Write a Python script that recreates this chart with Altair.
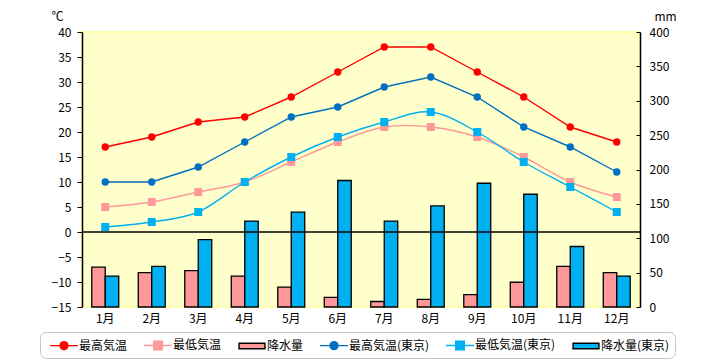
import altair as alt
import pandas as pd

MONTHS = ["1月", "2月", "3月", "4月", "5月", "6月", "7月", "8月", "9月", "10月", "11月", "12月"]
SERIES = ["最高気温", "最低気温", "降水量", "最高気温(東京)", "最低気温(東京)", "降水量(東京)"]
FILLS = ["#FF0000", "#FF9999", "#FF9999", "#0070C0", "#00B0F0", "#00B0F0"]
STROKES = ["#FF0000", "#FF9999", "#000000", "#0070C0", "#00B0F0", "#000000"]

HIGH = [17, 19, 22, 23, 27, 32, 37, 37, 32, 27, 21, 18]
LOW = [5, 6, 8, 10, 14, 18, 21, 21, 19, 15, 10, 7]
PRECIP = [58, 50, 53, 45, 29, 14, 8, 11, 18, 36, 59, 50]
TK_HIGH = [10, 10, 13, 18, 23, 25, 29, 31, 27, 21, 17, 12]
TK_LOW = [1, 2, 4, 10, 15, 19, 22, 24, 20, 14, 9, 4]
TK_PRECIP = [45, 59, 98, 125, 138, 184, 125, 147, 180, 164, 88, 45]

TEMP_TICKS = [-15, -10, -5, 0, 5, 10, 15, 20, 25, 30, 35, 40]
MM_TICKS = [0, 50, 100, 150, 200, 250, 300, 350, 400]

rows = []
for s, vals in zip(SERIES, [HIGH, LOW, PRECIP, TK_HIGH, TK_LOW, TK_PRECIP]):
    for m, v in zip(MONTHS, vals):
        rows.append({"month": m, "series": s, "value": v})
df = pd.DataFrame(rows)
zero_df = pd.DataFrame({"v": [0]})

FONT = "Noto Sans CJK JP"
BAR_SERIES = ["降水量", "降水量(東京)"]
HIGH_SERIES = ["最高気温", "最高気温(東京)"]
LOW_SERIES = ["最低気温", "最低気温(東京)"]

# legend symbol paths (line + marker, or bar swatch)
LINE_CIRCLE = "M-2,0H2M-0.57,0A0.57,0.57 0 1,0 0.57,0A0.57,0.57 0 1,0 -0.57,0Z"
LINE_SQUARE = "M-2,0H2M-0.62,-0.62H0.62V0.62H-0.62Z"
BAR_PATH = "M-1.85,-0.4H1.85V0.4H-1.85Z"
SHAPES = [LINE_CIRCLE, LINE_SQUARE, BAR_PATH, LINE_CIRCLE, LINE_SQUARE, BAR_PATH]

legend = alt.Legend(
    title=None, orient="none", legendX=-42, legendY=300,
    direction="horizontal", columns=6, columnPadding=11, padding=5,
    symbolSize=196, symbolOffset=11, labelOffset=7, symbolStrokeWidth=1.4,
    symbolOpacity=1,
    labelFont=FONT, labelFontSize=12, labelColor="black",
    fillColor="white", strokeColor="#C4C4C4", cornerRadius=6,
)

fill_enc = alt.Fill("series:N", scale=alt.Scale(domain=SERIES, range=FILLS), legend=legend)
stroke_enc = alt.Stroke("series:N", scale=alt.Scale(domain=SERIES, range=STROKES), legend=legend)
shape_enc = alt.Shape("series:N", scale=alt.Scale(domain=SERIES, range=SHAPES), legend=legend)

x_scale = alt.Scale(type="band", domain=MONTHS, paddingInner=0.42, paddingOuter=0.21)
x_axis = alt.Axis(title=None, domain=False, ticks=False, labelAngle=0, labelPadding=6,
                  labelFont=FONT, labelFontSize=12, labelColor="black")
X = alt.X("month:N", scale=x_scale, axis=x_axis, sort=MONTHS)

temp_scale = alt.Scale(domain=[-15, 40], nice=False, zero=False)
temp_axis = alt.Axis(orient="left", values=TEMP_TICKS, title="℃", titleAngle=0,
                     titleX=-25, titleY=-16, titleAlign="center", titleBaseline="middle",
                     titleFont=FONT, titleFontSize=12, titleFontWeight="normal", titleColor="black",
                     tickSize=5, labelPadding=6, grid=False, domainColor="black", tickColor="black",
                     labelFont=FONT, labelFontSize=12, labelColor="black", domainWidth=1.5)
mm_scale = alt.Scale(domain=[0, 400], nice=False)
mm_axis = alt.Axis(orient="right", values=MM_TICKS, title="mm", titleAngle=0,
                   titleX=25, titleY=-16, titleAlign="center", titleBaseline="middle",
                   titleFont=FONT, titleFontSize=12, titleFontWeight="normal", titleColor="black",
                   tickSize={"expr": "-4"}, labelPadding=13, grid=False, domainColor="black",
                   tickColor="black", labelFont=FONT, labelFontSize=12, labelColor="black",
                   domainWidth=1.5)

base = alt.Chart(df)

bars = base.transform_filter(
    alt.FieldOneOfPredicate(field="series", oneOf=BAR_SERIES)
).mark_bar(strokeWidth=1.3, opacity=1).encode(
    x=X,
    xOffset=alt.XOffset("series:N", scale=alt.Scale(domain=BAR_SERIES, paddingInner=0, paddingOuter=0)),
    y=alt.Y("value:Q", scale=mm_scale, axis=mm_axis),
    fill=fill_enc,
    stroke=stroke_enc,
)

YT = alt.Y("value:Q", scale=temp_scale, axis=temp_axis)

zero_rule = alt.Chart(zero_df).mark_rule(color="black", strokeWidth=1.3).encode(
    y=alt.Y("v:Q", scale=temp_scale, axis=temp_axis)
)

high_lines = base.transform_filter(
    alt.FieldOneOfPredicate(field="series", oneOf=HIGH_SERIES)
).mark_line(strokeWidth=1.4).encode(x=X, y=YT, stroke=stroke_enc, detail="series:N")

low_lines = base.transform_filter(
    alt.FieldOneOfPredicate(field="series", oneOf=LOW_SERIES)
).mark_line(strokeWidth=1.4, interpolate="cardinal").encode(x=X, y=YT, stroke=stroke_enc, detail="series:N")

high_pts = base.transform_filter(
    alt.FieldOneOfPredicate(field="series", oneOf=HIGH_SERIES)
).mark_point(shape="circle", filled=True, size=55, opacity=1).encode(x=X, y=YT, fill=fill_enc)

low_pts = base.transform_filter(
    alt.FieldOneOfPredicate(field="series", oneOf=LOW_SERIES)
).mark_point(shape="square", filled=True, size=64, opacity=1).encode(x=X, y=YT, fill=fill_enc)

# legend-only layer (draws nothing, supplies the symbol shapes)
legend_layer = base.transform_filter("false").mark_point(filled=True, opacity=1).encode(
    x=X, y=YT, shape=shape_enc, fill=fill_enc, stroke=stroke_enc
)

temp_layer = alt.layer(zero_rule, high_lines, low_lines, high_pts, low_pts, legend_layer)

chart = alt.layer(bars, temp_layer).resolve_scale(y="independent").properties(
    width=558, height=275,
    padding={"left": 74, "top": 24, "right": 72, "bottom": 53},
    autosize=alt.AutoSizeParams(type="none"),
    background="white",
).configure(font=FONT).configure_view(fill="#FFFFCC", stroke="#FFFF99", strokeWidth=1.5)

chart.save("out.html", embed_options={"renderer": "svg", "actions": False})
